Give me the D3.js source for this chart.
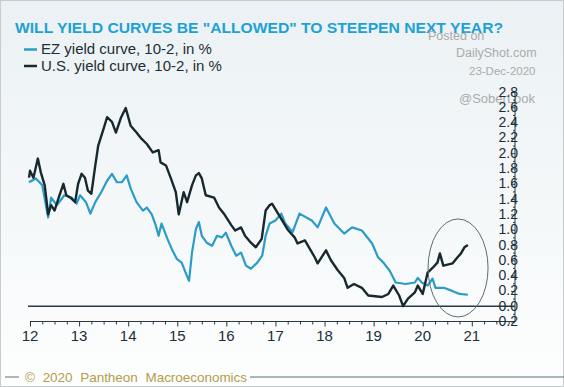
<!DOCTYPE html>
<html>
<head>
<meta charset="utf-8">
<script src="https://cdn.jsdelivr.net/npm/d3@7"></script>
<style>
  body { margin: 0; background: #fff; }
  svg { display: block; font-family: "Liberation Sans", Arial, sans-serif; }
</style>
</head>
<body>
<div id="chart"></div>
<script>
// data (decimal year, % spread)
const usSeries = [
  [2011.98, 1.68], [2012.0, 1.77], [2012.07, 1.68], [2012.16, 1.93], [2012.22, 1.75], [2012.3, 1.58],
  [2012.37, 1.2], [2012.43, 1.32], [2012.5, 1.25], [2012.6, 1.45], [2012.68, 1.6], [2012.74, 1.45],
  [2012.84, 1.41], [2012.92, 1.36], [2012.98, 1.6], [2013.05, 1.73], [2013.12, 1.68], [2013.18, 1.51],
  [2013.25, 1.47], [2013.33, 1.84], [2013.39, 2.1], [2013.5, 2.32], [2013.57, 2.47], [2013.67, 2.41],
  [2013.75, 2.27], [2013.85, 2.46], [2013.95, 2.59], [2014.05, 2.36], [2014.17, 2.27], [2014.27, 2.19],
  [2014.38, 2.12], [2014.5, 2.01], [2014.62, 2.04], [2014.66, 1.88], [2014.77, 1.84], [2014.87, 1.67],
  [2014.97, 1.49], [2015.03, 1.2], [2015.13, 1.49], [2015.2, 1.36], [2015.3, 1.58], [2015.38, 1.71],
  [2015.44, 1.74], [2015.5, 1.67], [2015.58, 1.45], [2015.75, 1.42], [2015.85, 1.29], [2015.95, 1.21],
  [2016.1, 1.06], [2016.18, 0.99], [2016.3, 1.03], [2016.38, 0.92], [2016.5, 0.83], [2016.6, 0.77],
  [2016.72, 0.88], [2016.8, 1.25], [2016.88, 1.32], [2016.93, 1.34], [2017.1, 1.16], [2017.25, 1.0],
  [2017.39, 0.9], [2017.45, 0.82], [2017.6, 0.86], [2017.8, 0.64], [2017.86, 0.56], [2018.03, 0.73],
  [2018.13, 0.6], [2018.27, 0.47], [2018.4, 0.37], [2018.47, 0.24], [2018.6, 0.29], [2018.76, 0.24],
  [2018.89, 0.14], [2019.17, 0.12], [2019.3, 0.16], [2019.4, 0.27], [2019.52, 0.14], [2019.6, 0.0],
  [2019.7, 0.1], [2019.84, 0.18], [2019.9, 0.27], [2020.0, 0.16], [2020.1, 0.44], [2020.2, 0.5],
  [2020.3, 0.57], [2020.35, 0.69], [2020.42, 0.53], [2020.61, 0.56], [2020.71, 0.64], [2020.78, 0.69],
  [2020.85, 0.77], [2020.92, 0.8]
];

const ezSeries = [
  [2011.98, 1.62], [2012.12, 1.67], [2012.25, 1.58], [2012.37, 1.16], [2012.43, 1.42], [2012.55, 1.32],
  [2012.7, 1.45], [2012.85, 1.42], [2012.95, 1.34], [2013.02, 1.45], [2013.14, 1.36], [2013.23, 1.21],
  [2013.33, 1.36], [2013.45, 1.49], [2013.57, 1.64], [2013.67, 1.73], [2013.77, 1.62], [2013.87, 1.62],
  [2013.97, 1.71], [2014.05, 1.54], [2014.17, 1.36], [2014.3, 1.25], [2014.38, 1.29], [2014.48, 1.2],
  [2014.56, 1.06], [2014.62, 0.92], [2014.68, 1.08], [2014.8, 0.88], [2014.9, 0.73], [2014.99, 0.62],
  [2015.09, 0.57], [2015.17, 0.44], [2015.24, 0.33], [2015.3, 0.7], [2015.38, 1.01], [2015.44, 1.1],
  [2015.5, 0.92], [2015.6, 0.83], [2015.71, 0.79], [2015.81, 0.92], [2015.91, 0.9], [2015.99, 0.96],
  [2016.1, 0.79], [2016.2, 0.66], [2016.3, 0.7], [2016.4, 0.53], [2016.5, 0.49], [2016.63, 0.57],
  [2016.73, 0.66], [2016.8, 0.92], [2016.88, 1.08], [2017.0, 1.12], [2017.12, 1.21], [2017.2, 1.08],
  [2017.35, 0.97], [2017.49, 1.21], [2017.74, 1.12], [2017.86, 1.03], [2018.03, 1.29], [2018.2, 1.08],
  [2018.4, 0.95], [2018.56, 1.03], [2018.76, 0.99], [2018.97, 0.82], [2019.09, 0.64], [2019.2, 0.57],
  [2019.33, 0.46], [2019.45, 0.31], [2019.65, 0.29], [2019.84, 0.31], [2019.9, 0.37], [2019.98, 0.31],
  [2020.1, 0.27], [2020.2, 0.36], [2020.26, 0.24], [2020.43, 0.24], [2020.6, 0.2], [2020.75, 0.16],
  [2020.92, 0.15]
];

const yearTicks = [2012, 2013, 2014, 2015, 2016, 2017, 2018, 2019, 2020, 2021];
const valueTicks = [-0.2, 0, 0.2, 0.4, 0.6, 0.8, 1.0, 1.2, 1.4, 1.6, 1.8, 2.0, 2.2, 2.4, 2.6, 2.8];
const legendLabels = ["EZ yield curve, 10-2, in %", "U.S. yield curve, 10-2, in %"];

const W = 564, H = 387;
const ezColor = "#2b9cc6", usColor = "#17282e", axisColor = "#2c3a40", textColor = "#1d2e35";

const svg = d3.select("#chart").append("svg")
    .attr("width", W)
    .attr("height", H);

// background gradient
const defs = svg.append("defs");
const grad = defs.append("linearGradient")
    .attr("id", "bg")
    .attr("x1", 0).attr("y1", 0).attr("x2", 0).attr("y2", 1);
grad.append("stop").attr("offset", "0%").attr("stop-color", "#ebf1f4");
grad.append("stop").attr("offset", "100%").attr("stop-color", "#fdfefe");

svg.append("rect")
    .attr("x", 0.5).attr("y", 0.5)
    .attr("width", W - 1).attr("height", H - 1)
    .attr("fill", "url(#bg)")
    .attr("stroke", "#c9cccd");

// scales
const x = d3.scaleLinear()
    .domain([2012, 2021.88])
    .range([30, 515]);

const y = d3.scaleLinear()
    .domain([-0.2, 2.8])
    .range([321.5, 92]);

// title
svg.append("text")
    .attr("x", 15)
    .attr("y", 33)
    .attr("fill", "#1ea1d3")
    .attr("font-weight", "bold")
    .attr("font-size", 15.5)
    .attr("textLength", 488)
    .attr("lengthAdjust", "spacingAndGlyphs")
    .text('WILL YIELD CURVES BE "ALLOWED" TO STEEPEN NEXT YEAR?');

// legend
const legend = svg.append("g");
legendLabels.forEach((label, i) => {
    let ly = 54 + i * 16.5;
    legend.append("line")
        .attr("x1", 24).attr("x2", 37)
        .attr("y1", ly - 4.5).attr("y2", ly - 4.5)
        .attr("stroke", i === 0 ? ezColor : usColor)
        .attr("stroke-width", 2.5);
    legend.append("text")
        .attr("x", 41)
        .attr("y", ly)
        .attr("fill", textColor)
        .attr("font-size", 15)
        .text(label);
});

// watermark
const wm = svg.append("g")
    .attr("fill", "#ababab")
    .attr("font-size", 12.5);
wm.append("text").attr("x", 428).attr("y", 40).text("Posted on");
wm.append("text").attr("x", 456).attr("y", 57).text("DailyShot.com");
wm.append("text").attr("x", 469).attr("y", 75).attr("font-size", 11.5).text("23-Dec-2020");
wm.append("text").attr("x", 459).attr("y", 103).attr("font-size", 13).text("@SoberLook");

// zero line
svg.append("line")
    .attr("x1", 28).attr("x2", x.range()[1])
    .attr("y1", y(0)).attr("y2", y(0))
    .attr("stroke", axisColor)
    .attr("stroke-width", 1.6);

// x axis
const xAxisG = svg.append("g")
    .attr("class", "x-axis")
    .attr("transform", `translate(0, ${y(-0.2)})`);

xAxisG.call(d3.axisBottom(x)
    .tickValues(d3.range(2012, 2021.88, 0.25))
    .tickSize(3)
    .tickFormat(""));

xAxisG.call(g => g.selectAll(".tick").filter(d => Math.abs(d - Math.round(d)) < 1e-6)
    .select("line").attr("y2", 5));

xAxisG.append("g")
    .selectAll("text")
    .data(yearTicks)
    .join("text")
    .attr("x", d => x(d))
    .attr("y", 19)
    .attr("text-anchor", "middle")
    .attr("fill", textColor)
    .attr("font-size", 15)
    .text(d => String(d).slice(2));

xAxisG.selectAll(".domain").attr("d", `M${x.range()[0]},0H${x.range()[1]}`);
xAxisG.selectAll("path, line").attr("stroke", axisColor);

// y axis
const yAxisG = svg.append("g")
    .attr("class", "y-axis")
    .attr("transform", `translate(${x.range()[1]}, 0)`);

yAxisG.call(d3.axisLeft(y)
    .tickValues(d3.range(-0.2, 2.85, 0.1))
    .tickSize(2)
    .tickFormat(""));

yAxisG.call(g => g.selectAll(".tick").filter(d => Math.round(d * 10) % 2 === 0)
    .select("line").attr("x2", -4));

yAxisG.selectAll(".domain").attr("d", `M0,${y.range()[0]}V${y.range()[1]}`);
yAxisG.selectAll("path, line").attr("stroke", axisColor);

yAxisG.append("g")
    .selectAll("text")
    .data(valueTicks)
    .join("text")
    .attr("x", 3)
    .attr("y", d => y(d) + 4.5)
    .attr("fill", textColor)
    .attr("font-size", 14)
    .text(d => d3.format(".1f")(d));

// lines
const line = d3.line()
    .x(d => x(d[0]))
    .y(d => y(d[1]));

svg.append("path")
    .datum(ezSeries)
    .attr("fill", "none")
    .attr("stroke", ezColor)
    .attr("stroke-width", 2.2)
    .attr("stroke-linejoin", "round")
    .attr("d", line);

svg.append("path")
    .datum(usSeries)
    .attr("fill", "none")
    .attr("stroke", usColor)
    .attr("stroke-width", 2.4)
    .attr("stroke-linejoin", "round")
    .attr("d", line);

// highlight ellipse
svg.append("ellipse")
    .attr("cx", x(2020.72))
    .attr("cy", y(0.5))
    .attr("rx", 30)
    .attr("ry", 49)
    .attr("fill", "none")
    .attr("stroke", "#5d6b70")
    .attr("stroke-width", 1);

// footer
svg.append("line")
    .attr("x1", 5).attr("x2", 19)
    .attr("y1", 377).attr("y2", 377)
    .attr("stroke", "#8f9ea4").attr("stroke-width", 1.5);
svg.append("line")
    .attr("x1", 250).attr("x2", W)
    .attr("y1", 377).attr("y2", 377)
    .attr("stroke", "#8f9ea4").attr("stroke-width", 1.5);
svg.append("text")
    .attr("x", 25)
    .attr("y", 382)
    .attr("fill", "#b49c4a")
    .attr("font-size", 13.5)
    .attr("textLength", 222)
    .attr("lengthAdjust", "spacing")
    .attr("word-spacing", 4)
    .text("© 2020 Pantheon Macroeconomics");
</script>
</body>
</html>
